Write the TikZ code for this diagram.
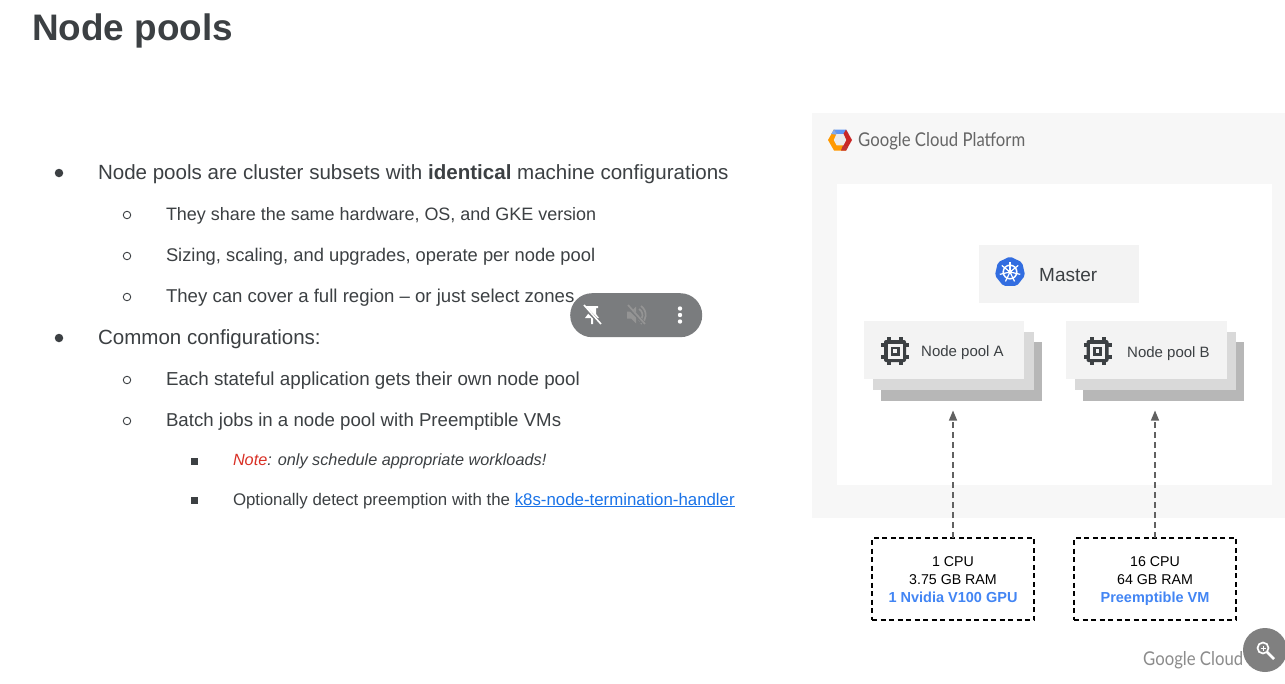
\documentclass[tikz,border=0pt]{standalone}
\usepackage{fontspec}
\setmainfont{Liberation Sans}
\newfontfamily\logofont[FakeStretch=0.88]{Lato}
\usetikzlibrary{arrows.meta,shapes.geometric}
\definecolor{ink}{HTML}{3C4043}
\definecolor{panel}{HTML}{F7F7F7}
\definecolor{front}{HTML}{F3F3F3}
\definecolor{midc}{HTML}{D9D9D9}
\definecolor{backc}{HTML}{B7B7B7}
\definecolor{gblue}{HTML}{4285F4}
\definecolor{kblue}{HTML}{326DE0}
\definecolor{linkc}{HTML}{1A73E8}
\definecolor{notered}{HTML}{D93025}
\definecolor{toolc}{HTML}{7A7C7E}
\newcommand\fsz[1]{\fontsize{#1}{#1}\selectfont}
\tikzset{
 txt/.style={anchor=base west,inner sep=0pt,outer sep=0pt,text=ink},
 card/.style={anchor=north west,inner sep=0pt,outer sep=0pt,draw=none},
 spec/.style={anchor=north west,inner sep=0pt,outer sep=0pt,draw=black,line width=1.2pt,dash pattern=on 5pt off 3.5pt,minimum width=162pt,minimum height=82pt},
 spectxt/.style={anchor=base,inner sep=0pt,text=black,font=\fsz{14.2}},
 specblue/.style={anchor=base,inner sep=0pt,text=gblue,font=\fsz{14.5}\bfseries},
 flow/.style={draw=black!62,line width=1.3pt,dash pattern=on 6pt off 4pt,-{Triangle[width=8pt,length=10pt,fill=black!62]}},
 bigdot/.style={circle,fill=ink,inner sep=0pt,minimum size=8.5pt},
 ring/.style={circle,draw=ink,line width=.9pt,inner sep=0pt,minimum size=7.5pt},
 sq/.style={rectangle,fill=ink,inner sep=0pt,minimum size=7pt},
 pooltxt/.style={anchor=base west,inner sep=0pt,text=ink,font=\fsz{15}}
}
\newcommand\chipicon[2]{%
 \begin{scope}[shift={(#1,#2)}]
  \foreach \k in {-6,6}{
   \fill[ink] (\k-2,-14) rectangle (\k+2,14);
   \fill[ink] (-14,\k-2) rectangle (14,\k+2);
  }
  \fill[ink,rounded corners=2pt] (-11,-11) rectangle (11,11);
  \fill[front] (-7.5,-7.5) rectangle (7.5,7.5);
  \fill[ink] (-4.5,-4.5) rectangle (4.5,4.5);
  \fill[front] (-1.8,-1.8) rectangle (1.8,1.8);
 \end{scope}}
\begin{document}
\begin{tikzpicture}[x=1pt,y=-1pt]
\useasboundingbox (0,0) rectangle (1285,683);
\fill[white] (0,0) rectangle (1285,683);

\node[txt,font=\fsz{36.9}\bfseries] (title) at (32,40) {Node pools};

\node[bigdot] (b1) at (59,173) {};
\node[txt,font=\fsz{20.55}] (t1) at (98,179) {Node pools are cluster subsets with \textbf{identical} machine configurations};
\node[ring] (b2) at (127,215) {};
\node[txt,font=\fsz{17.96}] (t2) at (166,220) {They share the same hardware, OS, and GKE version};
\node[ring] (b3) at (127,256) {};
\node[txt,font=\fsz{18.34}] (t3) at (166,261) {Sizing, scaling, and upgrades, operate per node pool};
\node[ring] (b4) at (127,297) {};
\node[txt,font=\fsz{18.6}] (t4) at (166,302) {They can cover a full region -- or just select zones};
\node[bigdot] (b5) at (59,338) {};
\node[txt,font=\fsz{20.55}] (t5) at (98,344) {Common configurations:};
\node[ring] (b6) at (127,380) {};
\node[txt,font=\fsz{18.8}] (t6) at (166,385) {Each stateful application gets their own node pool};
\node[ring] (b7) at (127,421) {};
\node[txt,font=\fsz{18.66}] (t7) at (166,426) {Batch jobs in a node pool with Preemptible VMs};
\node[sq] (b8) at (194,461) {};
\node[txt,font=\fsz{16.26}] (t8) at (233,465) {\itshape{\color{notered}Note}: only schedule appropriate workloads!};
\node[sq] (b9) at (194,500) {};
\node[txt,font=\fsz{16.84}] (t9) at (233,505) {Optionally detect preemption with the {\color{linkc}\underline{k8s-node-termination-handler}}};

% toolbar
\node[rectangle,rounded corners=21.9pt,fill=toolc,minimum width=132pt,minimum height=44pt,inner sep=0pt,anchor=north west] (tool) at (570,293) {};
\begin{scope}[shift={(592,315)}]
 \fill[white] (-6,-9) -- (6,-9) -- (6,-7) -- (4,-7) -- (4,-1) -- (7,3) -- (1,3) -- (1,9) -- (-1,9) -- (-1,3) -- (-7,3) -- (-4,-1) -- (-4,-7) -- (-6,-7) -- cycle;
 \draw[toolc,line width=3.4pt] (-9,-9) -- (9,9);
 \draw[white,line width=1.6pt] (-8,-10) -- (9,9);
\end{scope}
\begin{scope}[shift={(636,315)}]
 \fill[black!42] (-9,-3.5) -- (-5,-3.5) -- (0,-8.5) -- (0,8.5) -- (-5,3.5) -- (-9,3.5) -- cycle;
 \draw[black!42,line width=1.7pt] (3,-6) arc (-60:60:7);
 \draw[black!42,line width=1.7pt] (5,-9) arc (-55:55:11);
 \draw[toolc,line width=3.4pt] (-9,-9) -- (9,9);
 \draw[black!42,line width=1.7pt] (-8,-10) -- (9,9);
\end{scope}
\foreach \yy in {-6.5,0,6.5}{\fill[white] (680,315+\yy) circle (2.2);}

% panel
\node[card,fill=panel,minimum width=473pt,minimum height=405pt] (outer) at (812,113) {};
\node[card,fill=white,minimum width=435pt,minimum height=301pt] (inner) at (837,184) {};

% GCP logo
\begin{scope}[shift={(840,140)}]
 \fill[gblue!85] (-6,-10.5) -- (6,-10.5) -- (8.6,-6) -- (-8.6,-6) -- cycle;
 \fill[red!75!black!85] (6,-10.5) -- (12,0) -- (6,10.5) -- (3,5.2) -- (6,0) -- (3,-5.2) -- cycle;
 \fill[orange!80!yellow] (-6,-10.5) -- (-12,0) -- (-6,10.5) -- (6,10.5) -- (3,5.2) -- (-3,5.2) -- (-6,0) -- (-3,-5.2) -- cycle;
 \fill[red!70!black!80] (1,10.5) -- (6,10.5) -- (8,7) -- (3,5.2) -- cycle;
 \fill[gblue!70] (-8.6,-6) -- (-6,-10.5) -- (-3,-5.2) -- cycle;
 \fill[black!8] (-3.6,-5.8) -- (3.6,-5.8) -- (6.2,0) -- (3.4,5.4) -- (-3.4,5.4) -- (-6.2,0) -- cycle;
\end{scope}
\node[anchor=base west,inner sep=0pt,text=black!60,font=\logofont\fsz{19}] (gcp) at (858,146.5) {Google Cloud Platform};

% Master
\node[card,fill=front,minimum width=160pt,minimum height=58pt] (master) at (979,245) {};
\node[regular polygon,regular polygon sides=7,fill=kblue,inner sep=0pt,minimum size=31pt,rounded corners=2pt] (k8s) at (1010,272) {};
\begin{scope}[shift={(1010,272)}]
 \draw[white,line width=1.5pt] (0,0) circle (6.8);
 \foreach \a in {90,141.4,192.9,244.3,295.7,347.1,38.6}{
  \draw[white,line width=1.2pt] (0,0) -- (-\a:10.5);
 }
 \fill[white] (0,0) circle (2);
\end{scope}
\node[anchor=base west,inner sep=0pt,text=ink,font=\fsz{19}] (mastertxt) at (1039,281) {Master};

% Pool A
\node[card,fill=backc,minimum width=161pt,minimum height=59pt] (a3) at (881,342) {};
\node[card,fill=midc,minimum width=161pt,minimum height=58pt] (a2) at (873,332) {};
\node[card,fill=front,minimum width=160pt,minimum height=58pt] (a1) at (864,321) {};
\chipicon{895}{351}
\node[pooltxt] (atxt) at (921,356) {Node pool A};

% Pool B
\node[card,fill=backc,minimum width=161pt,minimum height=59pt] (c3) at (1083,342) {};
\node[card,fill=midc,minimum width=161pt,minimum height=58pt] (c2) at (1075,332) {};
\node[card,fill=front,minimum width=161pt,minimum height=58pt] (c1) at (1066,321) {};
\chipicon{1097.5}{351}
\node[pooltxt] (ctxt) at (1127,357) {Node pool B};

% spec boxes
\node[spec] (sa) at (872,538) {};
\node[spec] (sb) at (1074,538) {};
\node[spectxt] (sa1) at (953,566) {1 CPU};
\node[spectxt] (sa2) at (953,584) {3.75 GB RAM};
\node[specblue] (sa3) at (953,602) {1 Nvidia V100 GPU};
\node[spectxt] (sb1) at (1155,566) {16 CPU};
\node[spectxt] (sb2) at (1155,584) {64 GB RAM};
\node[specblue] (sb3) at (1155,602) {Preemptible VM};

% arrows
\coordinate (tipa) at (953,410.5);
\coordinate (tipb) at (1155,410.5);
\draw[flow] (sa.north) -- (tipa);
\draw[flow] (sb.north) -- (tipb);

% footer
\node[anchor=base west,inner sep=0pt,text=black!45,font=\logofont\fsz{19}] (gc) at (1143,665) {Google Cloud};
\node[circle,fill=black!50,inner sep=0pt,minimum size=44pt] (mag) at (1265,650) {};
\begin{scope}[shift={(1265,650)}]
 \draw[white,line width=1.7pt] (-2,-2) circle (5.5);
 \draw[white,line width=2.6pt] (2,2) -- (9,9);
 \draw[white,line width=1pt] (-4.5,-2) -- (.5,-2) (-2,-4.5) -- (-2,.5);
\end{scope}
\end{tikzpicture}
\end{document}
